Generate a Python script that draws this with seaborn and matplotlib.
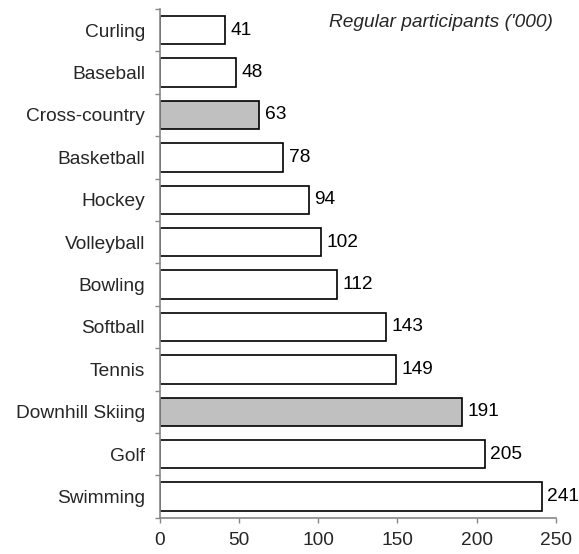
import matplotlib
matplotlib.use("Agg")
import matplotlib.pyplot as plt
from matplotlib.ticker import FixedLocator
import seaborn as sns
import pandas as pd

sports = ["Curling", "Baseball", "Cross-country", "Basketball", "Hockey", "Volleyball",
          "Bowling", "Softball", "Tennis", "Downhill Skiing", "Golf", "Swimming"]
participants = [41, 48, 63, 78, 94, 102, 112, 143, 149, 191, 205, 241]
highlighted = ["Cross-country", "Downhill Skiing"]

df = pd.DataFrame({"sport": sports, "value": participants})
df["group"] = ["hl" if s in highlighted else "base" for s in sports]

sns.set_style("white")
plt.rcParams["font.family"] = ["Liberation Sans", "DejaVu Sans"]
FS = 13.8

fig = plt.figure(figsize=(5.79, 5.54), dpi=100)
ax = fig.add_axes([0.2755, 0.0655, 0.9603 - 0.2755, 0.9838 - 0.0655])

sns.barplot(data=df, x="value", y="sport", hue="group", order=sports,
            palette={"base": "white", "hl": "#c0c0c0"}, dodge=False,
            edgecolor="black", linewidth=1.2, width=0.67, legend=False, ax=ax)

for i, v in enumerate(participants):
    ax.text(v + 3.5, i, str(v), va="center", ha="left", fontsize=FS, color="black")

ax.set_xlim(0, 250)
ax.set_ylim(len(sports) - 0.5, -0.5)
ax.set_xticks([0, 50, 100, 150, 200, 250])
ax.tick_params(axis="x", direction="out", length=3.8, width=1, color="#888888",
               labelsize=FS, pad=6.5, bottom=True)
ax.tick_params(axis="y", which="major", length=0, labelsize=FS, pad=10.4, left=False)
ax.yaxis.set_minor_locator(FixedLocator([i - 0.5 for i in range(len(sports) + 1)]))
ax.tick_params(axis="y", which="minor", direction="out", length=3.8, width=1,
               color="#888888", left=True)
ax.set_xlabel("")
ax.set_ylabel("")

for side in ["top", "right"]:
    ax.spines[side].set_visible(False)
for side in ["left", "bottom"]:
    ax.spines[side].set_color("#888888")
    ax.spines[side].set_linewidth(1.2)

fig.text(0.955, 0.960, "Regular participants ('000)", ha="right", va="center",
         fontsize=FS, style="italic")

fig.savefig("out.png", dpi=100)
